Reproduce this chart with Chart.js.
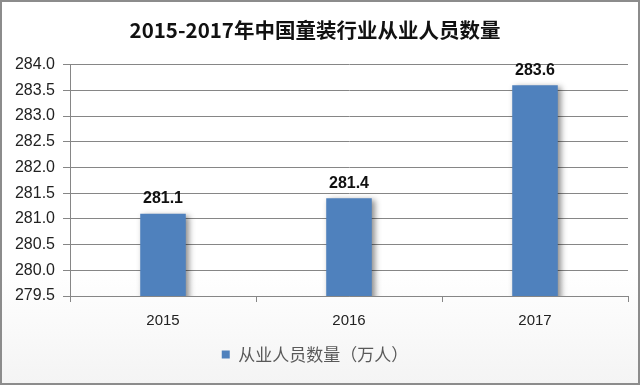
<!DOCTYPE html>
<html lang="zh">
<head>
  <meta charset="UTF-8" />
  <title>2015-2017年中国童装行业从业人员数量</title>
  <style>
    body {
      margin: 0;
      background: #fff;
    }
    .wrap {
      width: 640px;
      height: 385px;
      box-sizing: border-box;
      border: 2px solid #8c8c8c;
      background: linear-gradient(to bottom, #ffffff 0%, #ffffff 70%, #f4f4f4 100%);
    }
  </style>
</head>
<body>
  <div class="wrap">
    <canvas id="chart" width="636" height="381"></canvas>
  </div>

  <script src="https://cdn.jsdelivr.net/npm/chart.js@4"></script>
  <script>
    const years = ['2015', '2016', '2017'];
    const workers = [281.1, 281.4, 283.6];
    const seriesName = '从业人员数量（万人）';

    const fontLatin = "'Liberation Sans', 'Noto Sans CJK SC', sans-serif";
    const fontCJK = "'Noto Sans CJK SC', sans-serif";

    // bar shadow + value labels
    const barShadow = {
      id: 'barShadow',
      beforeDatasetsDraw(chart) {
        const c = chart.ctx;
        c.save();
        c.shadowColor = 'rgba(0,0,0,0.45)';
        c.shadowBlur = 6;
        c.shadowOffsetX = 3;
        c.shadowOffsetY = 2;
      },
      afterDatasetsDraw(chart) {
        chart.ctx.restore();
        const c = chart.ctx;
        c.save();
        c.font = "bold 16px " + fontLatin;
        c.fillStyle = '#111';
        c.textAlign = 'center';
        c.textBaseline = 'bottom';
        chart.getDatasetMeta(0).data.forEach((bar, i) => {
          c.fillText(workers[i].toFixed(1), bar.x, bar.y - 7);
        });
        c.restore();
      }
    };

    new Chart(document.getElementById('chart'), {
      type: 'bar',
      data: {
        labels: years,
        datasets: [{
          label: seriesName,
          data: workers,
          backgroundColor: '#4f81bd',
          categoryPercentage: 1,
          barPercentage: 0.245
        }]
      },
      options: {
        responsive: false,
        animation: false,
        layout: { padding: { left: 0, right: 10, top: 0, bottom: 10 } },
        plugins: {
          title: {
            display: true,
            text: '2015-2017年中国童装行业从业人员数量',
            color: '#111',
            font: { family: fontCJK, size: 20.5, weight: 'bold' },
            padding: { top: 16, bottom: 22 }
          },
          legend: {
            position: 'bottom',
            labels: {
              color: '#595959',
              boxWidth: 8,
              boxHeight: 8,
              padding: 10,
              font: { family: fontCJK, size: 17 }
            }
          },
          tooltip: { enabled: false }
        },
        scales: {
          x: {
            afterFit: s => { s.height = 40; },
            grid: {
              drawOnChartArea: false,
              color: '#868686',
              tickLength: 6,
              offset: true
            },
            border: { color: '#868686' },
            ticks: {
              color: '#222',
              padding: 10,
              font: { family: fontLatin, size: 15 }
            }
          },
          y: {
            min: 279.5,
            max: 284,
            afterFit: s => { s.width = 68; },
            grid: {
              color: '#868686',
              tickLength: 7
            },
            border: { color: '#868686' },
            ticks: {
              stepSize: 0.5,
              color: '#222',
              padding: 8,
              font: { family: fontLatin, size: 16 },
              callback: v => v.toFixed(1)
            }
          }
        }
      },
      plugins: [barShadow]
    });
  </script>
</body>
</html>
